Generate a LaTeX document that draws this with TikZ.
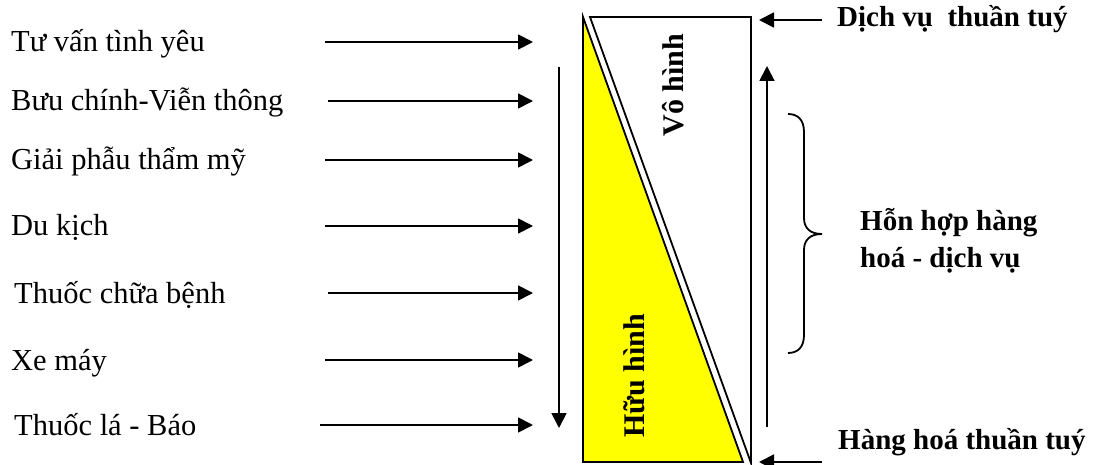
\documentclass[tikz,border=0pt]{standalone}
\usepackage{fontspec}
\setmainfont{Liberation Serif}
\usepackage{tikz}
\usetikzlibrary{arrows.meta,positioning,calc}
\usepackage{xcolor}
\definecolor{tangible}{RGB}{255,255,0}

\begin{document}
\begin{tikzpicture}[
    x=1pt, y=-1pt,
    every node/.style={font=\fontsize{30.5}{34}\selectfont, inner sep=0pt},
    item/.style={anchor=base west},
    side/.style={anchor=base west, font=\fontsize{29}{34}\selectfont\bfseries},
    band/.style={rotate=90, anchor=base, font=\fontsize{30}{34}\selectfont\bfseries},
    flow/.style={line width=1.8pt, -{Triangle[length=15pt,width=15pt]}},
    frame/.style={line width=1.8pt, line join=miter},
]
\useasboundingbox (0,0) rectangle (1100,465);

% products and services
\foreach \i/\lx/\ax/\ay/\txt in {
    1/11/325/42/{Tư vấn tình yêu},
    2/11/328/101/{Bưu chính-Viễn thông},
    3/11/325/160/{Giải phẫu thẩm mỹ},
    4/11/325/226/{Du kịch},
    5/14/328/293/{Thuốc chữa bệnh},
    6/11/325/360/{Xe máy},
    7/14/320/425/{Thuốc lá - Báo}} {
  \node[item] (lbl\i) at (\lx,\ay+10) {\txt};
  \coordinate (src\i) at (\ax,\ay);
  \coordinate (dst\i) at (533,\ay);
  \draw[flow] (src\i) -- (dst\i);
}

% spectrum bar
\coordinate (barTL) at (583,17);
\coordinate (barBL) at (583,462);
\coordinate (barBR) at (743,462);
\coordinate (cutT) at (590,17);
\coordinate (cutTR) at (751,17);
\coordinate (cutBR) at (751,463);
\fill[tangible] (barTL) -- (barBR) -- (barBL) -- cycle;
\draw[frame] (barTL) -- (barBR) -- (barBL) -- cycle;
\draw[frame] (cutT) -- (cutTR) -- (cutBR) -- cycle;

\node[band] (intang) at (683,85) {Vô hình};
\node[band] (tang) at (644,376) {Hữu hình};

% direction arrows
\coordinate (downA) at (559,67);
\coordinate (downB) at (559,428);
\coordinate (upA) at (767,427);
\coordinate (upB) at (767,66);
\draw[flow] (downA) -- (downB);
\draw[flow] (upA) -- (upB);

% pure ends
\coordinate (pureS) at (822,20);
\coordinate (pureSt) at (759,20);
\coordinate (pureG) at (822,462);
\coordinate (pureGt) at (759,462);
\draw[flow] (pureS) -- (pureSt);
\draw[flow] (pureG) -- (pureGt);
\node[side] (service) at (837,27) {Dịch vụ~ thuần tuý};
\node[side] (goods) at (838,449) {Hàng hoá thuần tuý};

% mixed zone
\draw[line width=1.8pt]
  (788,114) .. controls (798,114) and (804,120) .. (804,132)
  -- (804,218) .. controls (804,228) and (810,234) .. (822,234)
  .. controls (810,234) and (804,240) .. (804,250)
  -- (804,335) .. controls (804,347) and (798,353) .. (788,353);
\node[side] (mixA) at (860,230) {Hỗn hợp hàng};
\node[side] (mixB) at (860,267) {hoá - dịch vụ};
\end{tikzpicture}
\end{document}
